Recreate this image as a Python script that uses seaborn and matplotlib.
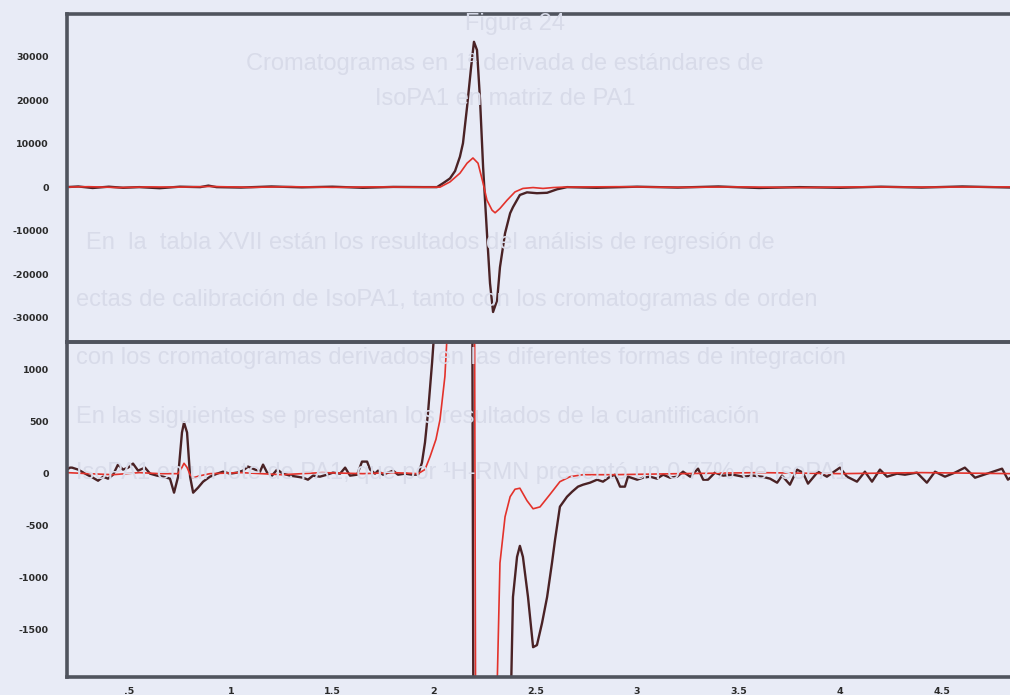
import numpy as np
import pandas as pd
import matplotlib
matplotlib.use("Agg")
import matplotlib.pyplot as plt
import seaborn as sns

# ---------------- data ----------------
# Upper panel: full-scale first-derivative chromatograms
top_dark_t = [0.19, 0.25, 0.32, 0.40, 0.47, 0.55, 0.65, 0.75, 0.85, 0.89, 0.93, 1.05, 1.20,
              1.35, 1.50, 1.65, 1.80, 1.95, 2.015, 2.045, 2.079, 2.104, 2.128, 2.143, 2.163,
              2.183, 2.197, 2.212, 2.227, 2.242, 2.261, 2.276, 2.291, 2.311, 2.325, 2.350,
              2.375, 2.389, 2.423, 2.458, 2.507, 2.557, 2.606, 2.655, 2.80, 3.00, 3.20, 3.40,
              3.60, 3.80, 4.00, 4.20, 4.40, 4.60, 4.85]
top_dark_y = [0, 150, -200, 100, -150, 0, -250, 100, 0, 350, 0, -100, 150,
              -50, 100, -150, 50, 0, 0, 900, 2000, 3700, 7000, 10100, 18400,
              27600, 33400, 31500, 20000, 4600, -10600, -22100, -28700, -26000, -18400, -10600,
              -6000, -4600, -1800, -1200, -1400, -1300, -500, 0, -150, 100, -100, 150,
              -200, 0, -150, 100, -100, 150, -100]

top_red_t = [0.19, 0.30, 0.45, 0.60, 0.75, 0.90, 1.10, 1.30, 1.50, 1.70, 1.90, 2.030, 2.079,
             2.128, 2.163, 2.192, 2.217, 2.242, 2.261, 2.286, 2.301, 2.325, 2.360, 2.399,
             2.438, 2.488, 2.537, 2.586, 2.636, 2.90, 3.20, 3.50, 3.80, 4.10, 4.40, 4.85]
top_red_y = [0, 100, -100, 50, 0, 150, -50, 100, -50, 50, 0, 0, 1200,
             3200, 5500, 6700, 5500, 900, -3000, -5300, -5900, -4900, -3000, -1100,
             -300, -100, -300, -100, 0, 100, -50, 50, -100, 50, 0, 50]

# Lower panel: expanded view of the same region
low_dark_t = [0.194, 0.209, 0.219, 0.249, 0.293, 0.322, 0.347, 0.372, 0.396, 0.421, 0.445,
              0.470, 0.495, 0.519, 0.544, 0.578, 0.603, 0.637, 0.667, 0.701, 0.721, 0.741,
              0.760, 0.770, 0.785, 0.800, 0.815, 0.839, 0.864, 0.898, 0.933, 0.962, 0.997,
              1.031, 1.060, 1.085, 1.120, 1.144, 1.159, 1.179, 1.203, 1.228, 1.257, 1.292,
              1.326, 1.356, 1.380, 1.405, 1.439, 1.474, 1.503, 1.538, 1.563, 1.587, 1.622,
              1.646, 1.671, 1.686, 1.710, 1.725, 1.749, 1.774, 1.799, 1.823, 1.858, 1.892,
              1.922, 1.941, 1.956, 1.971, 1.991, 2.010, 2.100, 2.187, 2.195, 2.300, 2.370,
              2.389, 2.409, 2.423, 2.438, 2.463, 2.488, 2.507, 2.532, 2.557, 2.581, 2.596,
              2.620, 2.655, 2.680, 2.709, 2.734, 2.768, 2.803, 2.832, 2.867, 2.891, 2.916,
              2.940, 2.955, 3.000, 3.029, 3.064, 3.098, 3.128, 3.162, 3.197, 3.226, 3.261,
              3.300, 3.325, 3.349, 3.383, 3.423, 3.472, 3.521, 3.570, 3.615, 3.654, 3.689,
              3.713, 3.752, 3.787, 3.816, 3.841, 3.890, 3.934, 3.998, 4.033, 4.082, 4.121,
              4.156, 4.195, 4.230, 4.279, 4.318, 4.377, 4.426, 4.466, 4.515, 4.564, 4.613,
              4.663, 4.737, 4.796, 4.825, 4.850]
low_dark_y = [39, 58, 58, 39, -10, -39, -68, -29, -48, -10, 87,
              39, 58, 97, 29, 58, 0, -19, -29, -48, -183, -29,
              396, 492, 396, -29, -183, -135, -77, -29, 0, 19, 0,
              10, 29, 68, 39, 19, 87, 10, -19, 39, 0, -19,
              -29, -39, -58, -19, -29, -10, 10, 0, 58, -19, -10,
              116, 116, 39, 0, 29, -10, 10, 29, -10, 0, -10,
              -10, 106, 300, 589, 1071, 1600, 3000, 3000, -3000, -3000, -3000,
              -1187, -801, -695, -801, -1187, -1670, -1650, -1438, -1187, -859, -637,
              -318, -222, -174, -125, -106, -87, -58, -77, -29, -10, -125,
              -125, -29, -58, -39, -29, -48, -10, -39, -29, 19, -29,
              48, -58, -58, 10, -19, -10, -29, -19, -29, -48, -87,
              -19, -106, 39, 10, -96, 19, -29, 58, -29, -77, 19,
              -77, 39, -29, 0, -10, 10, -87, 19, -29, 10, 58,
              -39, 10, 48, -58, -20]

low_red_t = [0.194, 0.30, 0.42, 0.55, 0.65, 0.741, 0.760, 0.770, 0.785, 0.800, 0.815, 0.849,
             0.898, 1.05, 1.25, 1.45, 1.65, 1.80, 1.922, 1.956, 1.981, 2.010, 2.030, 2.054,
             2.064, 2.120, 2.198, 2.206, 2.300, 2.325, 2.350, 2.375, 2.399, 2.423, 2.458,
             2.488, 2.522, 2.571, 2.620, 2.670, 2.734, 2.882, 3.211, 3.60, 4.00, 4.40, 4.850]
low_red_y = [10, 0, -10, 10, 0, 0, 60, 100, 60, -10, -40, -20,
             0, 10, -10, 10, 0, 10, 0, 40, 164, 330, 521, 936,
             1300, 3000, 3000, -3000, -3000, -859, -415, -222, -150, -140, -260,
             -338, -320, -200, -77, -29, -10, -10, 0, 10, 0, 10, 0]

top_yticks = [30000, 20000, 10000, 0, -10000, -20000, -30000]
low_yticks = [1000, 500, 0, -500, -1000, -1500]
x_ticks = [0.5, 1, 1.5, 2, 2.5, 3, 3.5, 4, 4.5]
x_ticklabels = [".5", "1", "1.5", "2", "2.5", "3", "3.5", "4", "4.5"]

# Faint text from the page behind, seen through the paper
page_text = [
    (0.51, 0.966, "Figura 24", "center"),
    (0.50, 0.908, "Cromatogramas en 1ª derivada de estándares de", "center"),
    (0.50, 0.858, "IsoPA1 en matriz de PA1", "center"),
    (0.085, 0.650, "En  la  tabla XVII están los resultados del análisis de regresión de", "left"),
    (0.075, 0.568, "ectas de calibración de IsoPA1, tanto con los cromatogramas de orden", "left"),
    (0.075, 0.485, "con los cromatogramas derivados en las diferentes formas de integración", "left"),
    (0.075, 0.400, "En las siguientes se presentan los resultados de la cuantificación", "left"),
    (0.075, 0.320, "IsoPA1 en un lote de PA1, que por ¹H-RMN presentó un 0.77% de IsoPA1", "left"),
]

# ---------------- style ----------------
sns.set_theme(style="white")
BG = "#e8ebf6"
SPINE = "#50545e"
DARK = "#4a2225"
RED = "#e3322b"
plt.rcParams["font.family"] = ["Liberation Sans Narrow", "DejaVu Sans"]
plt.rcParams["axes.unicode_minus"] = False

fig = plt.figure(figsize=(10.10, 6.95), dpi=100, facecolor=BG)

for x, y, s, ha in page_text:
    fig.text(x, y, s, ha=ha, va="center", fontsize=17, color="#d8dbe9",
             family=["Liberation Sans", "DejaVu Sans"], zorder=0)

ax_top = fig.add_axes([0.0663, 0.5079, 0.9367, 0.4720])
ax_low = fig.add_axes([0.0663, 0.0259, 0.9367, 0.4820])

XLIM = (0.194, 4.85)


def style_axes(ax):
    ax.set_facecolor("none")
    for side, sp in ax.spines.items():
        sp.set_color(SPINE)
        sp.set_linewidth(2.6)
    ax.tick_params(axis="both", which="major", length=7, width=0.9, color=SPINE,
                   direction="out", labelsize=6.8, labelcolor="#2a2a2a", pad=6)
    for lab in ax.get_yticklabels() + ax.get_xticklabels():
        lab.set_fontweight("bold")
    ax.set_xlabel("")
    ax.set_ylabel("")
    for ln in ax.get_lines():
        ln.set_solid_joinstyle("round")
        ln.set_solid_capstyle("round")


# upper panel
sns.lineplot(x=top_dark_t, y=top_dark_y, ax=ax_top, color=DARK, linewidth=1.7,
             sort=False, estimator=None)
sns.lineplot(x=top_red_t, y=top_red_y, ax=ax_top, color=RED, linewidth=1.2,
             sort=False, estimator=None)
ax_top.set_xlim(*XLIM)
ax_top.set_ylim(-35600, 39800)
ax_top.set_yticks(top_yticks)
ax_top.set_yticklabels([str(v) for v in top_yticks])
ax_top.set_xticks([])
style_axes(ax_top)
ax_top.tick_params(axis="x", length=0)

# lower panel
sns.lineplot(x=low_dark_t, y=low_dark_y, ax=ax_low, color=DARK, linewidth=1.7,
             sort=False, estimator=None)
sns.lineplot(x=low_red_t, y=low_red_y, ax=ax_low, color=RED, linewidth=1.2,
             sort=False, estimator=None)
ax_low.set_xlim(*XLIM)
ax_low.set_ylim(-1957, 1267)
ax_low.set_yticks(low_yticks)
ax_low.set_yticklabels([str(v) for v in low_yticks])
ax_low.set_xticks(x_ticks)
ax_low.set_xticklabels(x_ticklabels)
style_axes(ax_low)
ax_low.tick_params(axis="x", length=5, pad=2)

fig.savefig("out.png", dpi=100, facecolor=BG)
